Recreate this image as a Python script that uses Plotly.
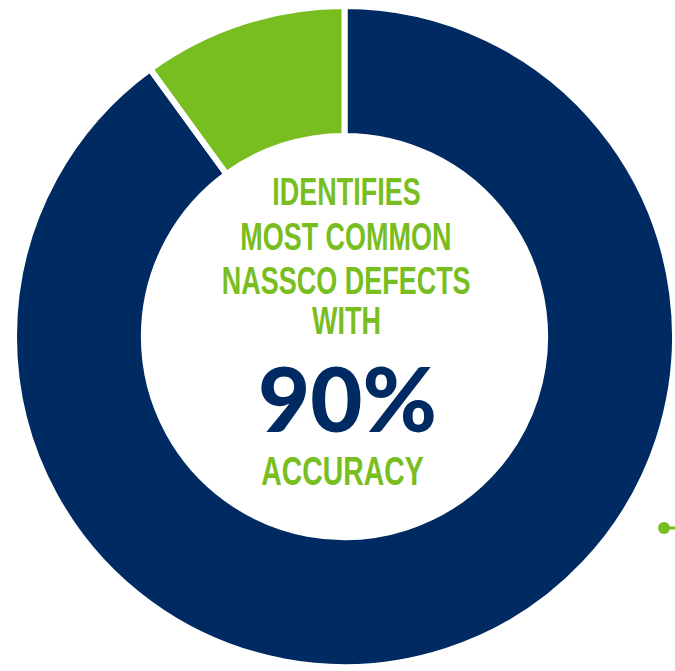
import plotly.graph_objects as go

W, H = 675, 671

labels = ["Other", "Identified"]
values = [90, 10]
colors = ["#002A62", "#78BE20"]

heading_lines = ["IDENTIFIES", "MOST COMMON", "NASSCO DEFECTS", "WITH"]
heading_y_px = [192, 237, 281, 321]
big_text = "90%"
footer_text = "ACCURACY"

GREEN = "#78BE20"
NAVY = "#002A62"

def px_x(x):
    return x / W

def px_y(y):
    return 1 - y / H

fig = go.Figure(go.Pie(
    labels=labels,
    values=values,
    hole=0.607,
    sort=False,
    direction="clockwise",
    rotation=0,
    marker=dict(colors=colors, line=dict(color="white", width=6)),
    textinfo="none",
    hoverinfo="label+percent",
    showlegend=False,
    domain=dict(x=[px_x(14), 1.0], y=[px_y(669), px_y(4)]),
))

GOTHIC = "Liberation Sans, Arial, sans-serif"
annotations = []
for txt, y in zip(heading_lines, heading_y_px):
    annotations.append(dict(
        text=f"<b>{txt}</b>", x=px_x(346), y=px_y(y), xref="paper", yref="paper",
        showarrow=False, xanchor="center", yanchor="middle",
        font=dict(family=GOTHIC, size=38, color=GREEN),
    ))
annotations.append(dict(
    text=f"<b>{big_text}</b>", x=px_x(347), y=px_y(397), xref="paper", yref="paper",
    showarrow=False, xanchor="center", yanchor="middle",
    font=dict(family="Lato Black, Lato, sans-serif", size=90, color=NAVY, weight=900),
))
annotations.append(dict(
    text=f"<b>{footer_text}</b>", x=px_x(342), y=px_y(471), xref="paper", yref="paper",
    showarrow=False, xanchor="center", yanchor="middle",
    font=dict(family=GOTHIC, size=40, color=GREEN),
))

shapes = [
    dict(type="line", xref="paper", yref="paper", x0=px_x(664), x1=px_x(676),
         y0=px_y(528), y1=px_y(528), line=dict(color=GREEN, width=3)),
    dict(type="circle", xref="paper", yref="paper", x0=px_x(658), x1=px_x(670),
         y0=px_y(534), y1=px_y(522), fillcolor=GREEN, line=dict(color=GREEN, width=0)),
]

fig.update_layout(
    width=W, height=H, autosize=False,
    margin=dict(l=0, r=0, t=0, b=0),
    paper_bgcolor="white", plot_bgcolor="white",
    annotations=annotations, shapes=shapes,
)

post = """
function squeeze(){
  document.querySelectorAll('text.annotation-text').forEach(function(t){
    if (t.textContent.indexOf('%') < 0) {
      t.style.transformBox = 'fill-box';
      t.style.transformOrigin = 'center';
      t.style.transform = 'scaleX(0.71)';
    }
  });
}
squeeze();
var gd = document.getElementById('{plot_id}');
if (gd && gd.on) { gd.on('plotly_afterplot', squeeze); }
"""

fig.write_html("out.html", post_script=post)
